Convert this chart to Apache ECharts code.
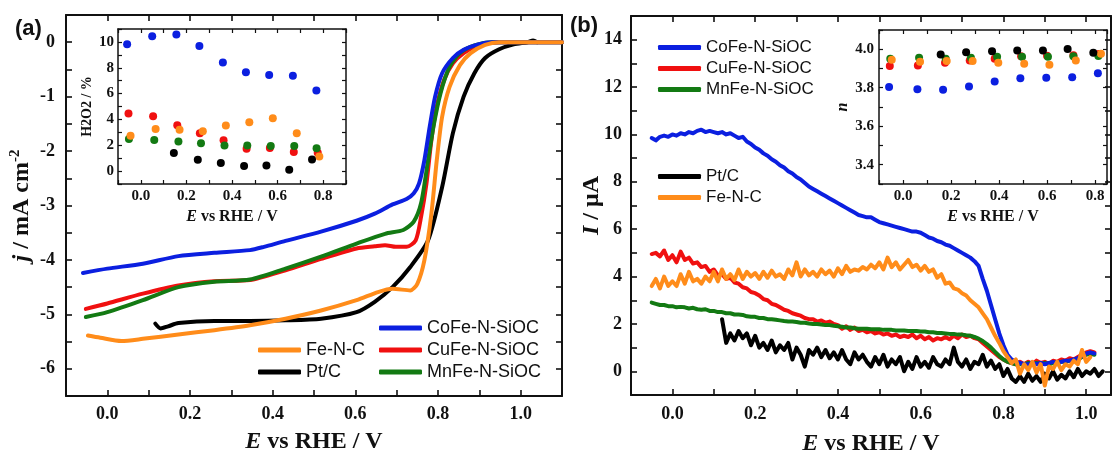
<!DOCTYPE html>
<html>
<head>
<meta charset="utf-8">
<script src="https://cdn.jsdelivr.net/npm/echarts@6/dist/echarts.min.js"></script>
<style>
  html, body { margin: 0; padding: 0; background: #fff; }
  #chart { width: 1116px; height: 455px; }
</style>
</head>
<body>
<div id="chart"></div>
<script>
  // ---- (a) LSV curves: E (V vs RHE) and j (mA cm-2) ----
  const lsvCoFeE = [-0.059, 0.0, 0.086, 0.172, 0.259, 0.345, 0.379, 0.431, 0.517, 0.603, 0.647, 0.690, 0.724, 0.741, 0.754, 0.767, 0.780, 0.793, 0.810, 0.836, 0.862, 0.897, 0.931, 1.1];
  const lsvCoFeJ = [-4.24, -4.16, -4.07, -3.93, -3.87, -3.82, -3.76, -3.65, -3.48, -3.28, -3.15, -2.98, -2.88, -2.78, -2.60, -2.17, -1.55, -1.00, -0.57, -0.29, -0.14, -0.04, 0, 0];
  const lsvCuFeE = [-0.052, 0.0, 0.086, 0.172, 0.259, 0.345, 0.431, 0.517, 0.603, 0.647, 0.672, 0.698, 0.724, 0.746, 0.759, 0.772, 0.784, 0.797, 0.815, 0.836, 0.862, 0.897, 0.948, 1.1];
  const lsvCuFeJ = [-4.90, -4.80, -4.62, -4.47, -4.39, -4.37, -4.19, -3.98, -3.79, -3.75, -3.73, -3.76, -3.76, -3.64, -3.21, -2.60, -1.80, -1.18, -0.69, -0.39, -0.20, -0.06, 0, 0];
  const lsvMnFeE = [-0.052, 0.0, 0.086, 0.172, 0.259, 0.345, 0.431, 0.517, 0.603, 0.672, 0.716, 0.741, 0.759, 0.776, 0.789, 0.806, 0.828, 0.853, 0.888, 0.931, 1.1];
  const lsvMnFeJ = [-5.05, -4.96, -4.74, -4.50, -4.40, -4.36, -4.16, -3.94, -3.70, -3.52, -3.45, -3.30, -2.96, -2.17, -1.55, -0.94, -0.45, -0.20, -0.06, 0, 0];
  const lsvFeNCE = [-0.047, -0.017, 0.034, 0.086, 0.172, 0.259, 0.345, 0.431, 0.517, 0.603, 0.655, 0.690, 0.733, 0.750, 0.767, 0.784, 0.797, 0.810, 0.828, 0.853, 0.879, 0.914, 0.948, 1.1];
  const lsvFeNCJ = [-5.39, -5.43, -5.49, -5.45, -5.37, -5.29, -5.20, -5.08, -4.93, -4.74, -4.59, -4.53, -4.56, -4.44, -4.01, -3.15, -2.17, -1.37, -0.82, -0.42, -0.20, -0.05, 0, 0];
  const lsvPtCE = [0.116, 0.129, 0.147, 0.172, 0.259, 0.345, 0.431, 0.517, 0.603, 0.647, 0.690, 0.733, 0.776, 0.810, 0.836, 0.862, 0.888, 0.914, 0.948, 0.983, 1.017, 1.03, 1.04];
  const lsvPtCJ = [-5.17, -5.26, -5.22, -5.16, -5.12, -5.12, -5.11, -5.08, -4.96, -4.77, -4.50, -4.13, -3.64, -2.66, -1.67, -1.00, -0.57, -0.29, -0.13, -0.04, 0, 0.03, 0];

  // ---- (a) inset: H2O2 yield (%) ----
  const h2o2CoFeE = [-0.06, 0.05, 0.156, 0.257, 0.36, 0.461, 0.563, 0.667, 0.77];
  const h2o2CoFe = [9.82, 10.44, 10.57, 9.69, 8.40, 7.65, 7.44, 7.39, 6.23];
  const h2o2CuFeE = [-0.054, 0.054, 0.16, 0.259, 0.363, 0.464, 0.566, 0.671, 0.776];
  const h2o2CuFe = [4.45, 4.24, 3.54, 2.92, 2.38, 1.73, 1.79, 1.47, 1.42];
  const h2o2MnFeE = [-0.052, 0.059, 0.165, 0.264, 0.367, 0.467, 0.57, 0.673, 0.771];
  const h2o2MnFe = [2.48, 2.40, 2.30, 2.15, 1.99, 1.99, 1.94, 1.94, 1.76];
  const h2o2FeNCE = [-0.045, 0.065, 0.17, 0.272, 0.373, 0.476, 0.579, 0.684, 0.783];
  const h2o2FeNC = [2.74, 3.26, 3.20, 3.08, 3.52, 3.78, 4.09, 2.92, 1.12];
  const h2o2PtCE = [0.145, 0.25, 0.351, 0.453, 0.551, 0.651, 0.751];
  const h2o2PtC = [1.40, 0.88, 0.62, 0.39, 0.44, 0.10, 0.90];

  // ---- (b) ring current I (uA), shared potential grid ----
  const ringE = [-0.05, -0.04, -0.03, -0.02, -0.01,
    0.00, 0.01, 0.02, 0.03, 0.04, 0.05, 0.06, 0.07, 0.08, 0.09,
    0.10, 0.11, 0.12, 0.13, 0.14, 0.15, 0.16, 0.17, 0.18, 0.19,
    0.20, 0.21, 0.22, 0.23, 0.24, 0.25, 0.26, 0.27, 0.28, 0.29,
    0.30, 0.31, 0.32, 0.33, 0.34, 0.35, 0.36, 0.37, 0.38, 0.39,
    0.40, 0.41, 0.42, 0.43, 0.44, 0.45, 0.46, 0.47, 0.48, 0.49,
    0.50, 0.51, 0.52, 0.53, 0.54, 0.55, 0.56, 0.57, 0.58, 0.59,
    0.60, 0.61, 0.62, 0.63, 0.64, 0.65, 0.66, 0.67, 0.68, 0.69,
    0.70, 0.71, 0.72, 0.73, 0.74, 0.75, 0.76, 0.77, 0.78, 0.79,
    0.80, 0.81, 0.82, 0.83, 0.84, 0.85, 0.86, 0.87, 0.88, 0.89,
    0.90, 0.91, 0.92, 0.93, 0.94, 0.95, 0.96, 0.97, 0.98, 0.99,
    1.00, 1.01, 1.02, 1.03, 1.04];
  const ringCoFe = [9.85, 9.75, 9.9, 9.95, 9.9,
    10.0, 9.95, 10.05, 10.0, 10.1, 10.05, 10.15, 10.2, 10.1, 10.15,
    10.1, 10.05, 10.1, 10.0, 10.05, 9.95, 9.85, 9.9, 9.7, 9.6,
    9.45, 9.35, 9.2, 9.1, 8.95, 8.85, 8.7, 8.6, 8.45, 8.35,
    8.2, 8.1, 7.95, 7.8, 7.7, 7.6, 7.5, 7.4, 7.3, 7.2,
    7.1, 7.0, 6.9, 6.8, 6.7, 6.6, 6.55, 6.5, 6.5, 6.4,
    6.3, 6.25, 6.2, 6.15, 6.1, 6.05, 6.0, 5.95, 5.9, 5.9,
    5.85, 5.75, 5.65, 5.6, 5.5, 5.45, 5.35, 5.3, 5.2, 5.1,
    5.0, 4.9, 4.8, 4.65, 4.45, 3.9, 3.4, 2.8, 2.2, 1.6,
    1.1, 0.7, 0.5, 0.4, 0.35, 0.3, 0.3, 0.35, 0.3, 0.35,
    0.3, 0.35, 0.4, 0.35, 0.4, 0.45, 0.45, 0.5, 0.55, 0.65,
    0.75, 0.8, 0.75, null, null];
  const ringCuFe = [4.95, 5.0, 4.85, 5.1, 4.7,
    4.9, 4.6, 5.05, 4.7, 4.8, 4.55, 4.6, 4.4, 4.45, 4.2,
    4.3, 4.05, 4.1, 3.9, 3.95, 3.75, 3.7, 3.55, 3.5, 3.35,
    3.3, 3.2, 3.05, 3.0, 2.85, 2.8, 2.7, 2.6, 2.55, 2.45,
    2.4, 2.35, 2.25, 2.2, 2.2, 2.1, 2.15, 2.05, 2.1, 2.0,
    1.95, 1.8, 1.9, 1.75, 1.85, 1.7, 1.75, 1.65, 1.7, 1.6,
    1.65, 1.55, 1.6, 1.5, 1.55, 1.45, 1.5, 1.45, 1.55, 1.4,
    1.5, 1.35, 1.45, 1.3, 1.4, 1.35, 1.45, 1.35, 1.5, 1.4,
    1.55, 1.45, 1.5, 1.4, 1.35, 1.2, 1.05, 0.9, 0.75, 0.6,
    0.5, 0.4, 0.35, 0.3, 0.4, 0.3, 0.4, 0.3, 0.45, 0.35,
    0.4, 0.3, 0.45, 0.4, 0.5, 0.45, 0.55, 0.5, 0.6, 0.7,
    0.8, 0.85, 0.8, null, null];
  const ringMnFe = [2.9, 2.85, 2.8, 2.8, 2.75,
    2.75, 2.7, 2.72, 2.7, 2.65, 2.68, 2.62, 2.6, 2.62, 2.55,
    2.55, 2.5, 2.5, 2.45, 2.45, 2.4, 2.4, 2.38, 2.32, 2.3,
    2.3, 2.25, 2.25, 2.2, 2.2, 2.18, 2.15, 2.12, 2.1, 2.1,
    2.08, 2.05, 2.05, 2.02, 2.0, 2.0, 1.98, 1.95, 1.95, 1.92,
    1.9, 1.88, 1.85, 1.85, 1.82, 1.8, 1.8, 1.8, 1.78, 1.78,
    1.78, 1.75, 1.75, 1.75, 1.72, 1.72, 1.72, 1.7, 1.7, 1.7,
    1.68, 1.68, 1.65, 1.65, 1.62, 1.62, 1.6, 1.58, 1.58, 1.55,
    1.55, 1.52, 1.5, 1.45, 1.38, 1.28, 1.15, 1.0, 0.82, 0.65,
    0.5, 0.4, 0.35, 0.3, 0.3, 0.3, 0.35, 0.3, 0.35, 0.3,
    0.35, 0.3, 0.35, 0.35, 0.4, 0.4, 0.45, 0.45, 0.5, 0.6,
    0.7, 0.75, 0.7, null, null];
  const ringFeNC = [3.6, 3.9, 3.5, 4.0, 3.6,
    3.8, 3.6, 4.1, 3.7, 4.2, 3.8, 3.9, 3.7, 4.0, 3.8,
    4.2, 3.8, 4.3, 3.9, 4.1, 3.85, 4.3, 3.9, 4.2, 4.0,
    4.15, 3.9, 4.2, 3.95, 4.25, 4.0, 4.1, 3.9, 4.3, 4.05,
    4.6, 4.0, 4.3, 4.05, 4.2, 4.0, 4.3, 4.1, 4.25, 4.0,
    4.35, 4.1, 4.45, 4.2, 4.3, 4.25, 4.4, 4.3, 4.5, 4.35,
    4.6, 4.3, 4.8, 4.4, 4.6, 4.3, 4.5, 4.7, 4.4, 4.5,
    4.25, 4.45, 4.2, 4.3, 3.95, 4.1, 3.7, 3.75, 3.5, 3.45,
    3.3, 3.2, 3.0, 2.85, 2.7, 2.45, 2.2, 1.85, 1.5, 1.2,
    0.85, 0.6, 0.35, 0.5, -0.1, 0.3, 0.05, 0.4, -0.05, 0.3,
    -0.6, 0.2, 0.1, 0.4, 0.05, 0.3, 0.2, 0.45, 0.3, 0.9,
    0.4, 0.6, null, null, null];
  const ringPtC = [null, null, null, null, null,
    null, null, null, null, null, null, null, null, null, null,
    null, null, 2.2, 1.2, 1.6, 1.3, 1.7, 1.4, 1.6, 1.1,
    1.5, 1.0, 1.2, 0.9, 1.3, 0.8, 1.1, 0.9, 1.2, 0.5,
    1.0, 0.7, 0.2, 0.9, 0.7, 1.0, 0.6, 0.9, 0.55, 0.8,
    0.5, 0.9, 0.5, 0.3, 0.8, 0.5, 0.7, 0.4, 0.2, 0.6,
    0.3, 0.7, 0.2, 0.5, 0.3, 0.6, 0.0, 0.4, 0.1, 0.6,
    0.2, 0.4, 0.15, 0.6, 0.3, 0.2, 0.5, 0.3, 1.0, 0.4,
    0.2, 0.5, 0.1, 0.4, 0.3, 0.7, 0.2, 0.45, 0.1, 0.3,
    -0.2, 0.1, -0.3, -0.45, -0.2, -0.45, -0.1, -0.4, -0.2, -0.45,
    -0.1, -0.3, 0.0, -0.35, -0.15, -0.3, 0.0, -0.25, 0.1, -0.2,
    0.0, -0.1, 0.1, -0.2, 0.0];

  // ---- (b) inset: electron transfer number n ----
  const nCoFeE = [-0.058, 0.06, 0.167, 0.275, 0.382, 0.489, 0.597, 0.705, 0.812];
  const nCoFe = [3.804, 3.792, 3.789, 3.806, 3.832, 3.849, 3.852, 3.854, 3.875];
  const nCuFeE = [-0.055, 0.062, 0.175, 0.278, 0.382, 0.492, 0.6, 0.71, 0.815];
  const nCuFe = [3.913, 3.915, 3.930, 3.941, 3.951, 3.963, 3.966, 3.969, 3.975];
  const nMnFeE = [-0.053, 0.067, 0.178, 0.283, 0.392, 0.496, 0.604, 0.71, 0.814];
  const nMnFe = [3.951, 3.956, 3.951, 3.956, 3.961, 3.961, 3.961, 3.963, 3.965];
  const nFeNCE = [-0.047, 0.071, 0.182, 0.29, 0.397, 0.505, 0.61, 0.72, 0.825];
  const nFeNC = [3.946, 3.935, 3.939, 3.939, 3.930, 3.925, 3.920, 3.941, 3.977];
  const nPtCE = [0.157, 0.263, 0.371, 0.476, 0.583, 0.686, 0.793];
  const nPtC = [3.973, 3.984, 3.989, 3.994, 3.994, 4.001, 3.982];

  const C = { CoFe: '#0b1fe0', CuFe: '#f01010', MnFe: '#137a13', FeNC: '#ff8c1a', PtC: '#000000' };
  const SERIF = "'Liberation Serif', 'Times New Roman', serif";
  const SANS = "'Liberation Sans', Arial, sans-serif";

  const zip = (xs, ys) => xs.map((x, i) => [x, ys[i]]);

  // label helpers: only show every other tick
  const tenthLabel = (lo, hi) => v => {
    const n = Math.round(v * 10);
    if (Math.abs(v * 10 - n) > 1e-6 || n % 2 !== 0 || n < lo || n > hi) return '';
    return (n / 10).toFixed(1);
  };
  const intLabel = (lo, hi, step) => v => {
    const n = Math.round(v);
    if (Math.abs(v - n) > 1e-6 || n % step !== 0 || n < lo || n > hi) return '';
    return String(n);
  };

  function axis(grid, position, min, max, interval, o) {
    const a = {
      type: 'value', gridIndex: grid, position, min, max, interval,
      axisLine: { show: true, onZero: false, lineStyle: { color: '#111', width: o.lw } },
      axisTick: { show: true, inside: true, length: o.tick, lineStyle: { color: '#111', width: o.lw * 0.8 } },
      splitLine: { show: false },
      axisLabel: o.fmt ? {
        show: true, formatter: o.fmt, fontFamily: SERIF, fontWeight: 'bold',
        fontSize: o.fs, color: '#111', margin: o.margin
      } : { show: false }
    };
    if (o.name) {
      a.name = o.name;
      a.nameLocation = 'middle';
      a.nameGap = o.gap;
      if (o.noPush) a.nameMoveOverlap = false;
      a.nameTextStyle = {
        fontFamily: SERIF, fontWeight: 'bold', fontSize: o.nfs, color: '#111',
        rich: {
          i: { fontFamily: SERIF, fontWeight: 'bold', fontStyle: 'italic', fontSize: o.nfs, color: '#111' },
          sup: { fontFamily: SERIF, fontWeight: 'bold', fontSize: Math.round(o.nfs * 0.62), color: '#111', verticalAlign: 'top', padding: [0, 0, 12, 0] }
        }
      };
    }
    return a;
  }

  const main = { lw: 2, tick: 6 };
  const ins = { lw: 1.5, tick: 4 };

  const xAxes = [
    axis(0, 'bottom', -0.1, 1.1, 0.1, { ...main, fmt: tenthLabel(0, 10), fs: 18, margin: 9, name: '{i|E} vs RHE / V', gap: 34, nfs: 24 }),
    axis(0, 'top', -0.1, 1.1, 0.1, main),
    axis(1, 'bottom', -0.1, 0.9, 0.1, { ...ins, fmt: tenthLabel(0, 8), fs: 15, margin: 5, name: '{i|E} vs RHE / V', gap: 25, nfs: 16 }),
    axis(1, 'top', -0.1, 0.9, 0.1, ins),
    axis(2, 'bottom', -0.1, 1.06, 0.1, { ...main, fmt: tenthLabel(0, 10), fs: 18, margin: 10, name: '{i|E} vs RHE / V', gap: 37, nfs: 24 }),
    axis(2, 'top', -0.1, 1.06, 0.1, main),
    axis(3, 'bottom', -0.1, 0.85, 0.1, { ...ins, fmt: tenthLabel(0, 8), fs: 15, margin: 5, name: '{i|E} vs RHE / V', gap: 25, nfs: 16 }),
    axis(3, 'top', -0.1, 0.85, 0.1, ins)
  ];
  const yAxes = [
    axis(0, 'left', -6.5, 0.5, 0.5, { ...main, fmt: intLabel(-6, 0, 1), fs: 18, margin: 11, name: '{i|j} / mA cm{sup|-2}', gap: 31, nfs: 24, noPush: true }),
    axis(0, 'right', -6.5, 0.5, 0.5, main),
    axis(1, 'left', -1, 11, 1, { ...ins, fmt: intLabel(0, 10, 2), fs: 15, margin: 4, name: 'H2O2 / %', gap: 24, nfs: 14 }),
    axis(1, 'right', -1, 11, 1, ins),
    axis(2, 'left', -1, 15, 1, { ...main, fmt: intLabel(0, 14, 2), fs: 18, margin: 9, name: '{i|I} / μA', gap: 27, nfs: 24, noPush: true }),
    axis(2, 'right', -1, 15, 1, main),
    axis(3, 'left', 3.3, 4.1, 0.1, { ...ins, fmt: tenthLabel(34, 40), fs: 15, margin: 5, name: '{i|n}', gap: 28, nfs: 16 }),
    axis(3, 'right', 3.3, 4.1, 0.1, ins)
  ];

  const line = (name, color, ai, data, smooth) => ({
    type: 'line', name, xAxisIndex: ai, yAxisIndex: ai, data,
    showSymbol: false, symbol: 'none', smooth,
    lineStyle: { color, width: 4, cap: 'round', join: 'round' }, itemStyle: { color }, z: 3
  });
  const dots = (name, color, ai, data) => ({
    type: 'scatter', name, xAxisIndex: ai, yAxisIndex: ai, data,
    symbol: 'circle', symbolSize: 8, itemStyle: { color, opacity: 1 }, z: 5
  });

  const legendBase = {
    orient: 'vertical', selectedMode: false, icon: 'roundRect',
    itemWidth: 43, itemHeight: 5, itemGap: 4, padding: 0,
    textStyle: { fontFamily: SANS, fontSize: 18, color: '#111' }
  };

  const option = {
    animation: false,
    backgroundColor: '#ffffff',
    title: [
      { text: '(a)', left: 15, top: 18, padding: 0, textStyle: { fontFamily: SANS, fontWeight: 'bold', fontSize: 22, color: '#111' } },
      { text: '(b)', left: 570, top: 15, padding: 0, textStyle: { fontFamily: SANS, fontWeight: 'bold', fontSize: 22, color: '#111' } }
    ],
    legend: [
      { ...legendBase, left: 379, top: 319, data: ['CoFe-N-SiOC', 'CuFe-N-SiOC', 'MnFe-N-SiOC'] },
      { ...legendBase, left: 258, top: 341, data: ['Fe-N-C', 'Pt/C'] },
      { ...legendBase, left: 658, top: 39, textStyle: { ...legendBase.textStyle, fontSize: 17 }, data: ['CoFe-N-SiOC', 'CuFe-N-SiOC', 'MnFe-N-SiOC'] },
      { ...legendBase, left: 658, top: 168, textStyle: { ...legendBase.textStyle, fontSize: 17 }, data: ['Pt/C', 'Fe-N-C'] }
    ],
    grid: [
      { left: 66, top: 15, width: 496, height: 381, outerBoundsMode: 'none' },
      { left: 118, top: 29, width: 228, height: 155, show: true, backgroundColor: '#fff', borderWidth: 0, outerBoundsMode: 'none' },
      { left: 631, top: 16, width: 480, height: 379, outerBoundsMode: 'none' },
      { left: 879, top: 30, width: 228, height: 154, show: true, backgroundColor: '#fff', borderWidth: 0, outerBoundsMode: 'none' }
    ],
    xAxis: xAxes,
    yAxis: yAxes,
    series: [
      line('Pt/C', C.PtC, 0, zip(lsvPtCE, lsvPtCJ), 0.25),
      line('CuFe-N-SiOC', C.CuFe, 0, zip(lsvCuFeE, lsvCuFeJ), 0.25),
      line('MnFe-N-SiOC', C.MnFe, 0, zip(lsvMnFeE, lsvMnFeJ), 0.25),
      line('CoFe-N-SiOC', C.CoFe, 0, zip(lsvCoFeE, lsvCoFeJ), 0.25),
      line('Fe-N-C', C.FeNC, 0, zip(lsvFeNCE, lsvFeNCJ), 0.25),

      dots('H2O2 CuFe', C.CuFe, 2, zip(h2o2CuFeE, h2o2CuFe)),
      dots('H2O2 MnFe', C.MnFe, 2, zip(h2o2MnFeE, h2o2MnFe)),
      dots('H2O2 FeNC', C.FeNC, 2, zip(h2o2FeNCE, h2o2FeNC)),
      dots('H2O2 PtC', C.PtC, 2, zip(h2o2PtCE, h2o2PtC)),
      dots('H2O2 CoFe', C.CoFe, 2, zip(h2o2CoFeE, h2o2CoFe)),

      line('Pt/C', C.PtC, 4, zip(ringE, ringPtC), false),
      line('CuFe-N-SiOC', C.CuFe, 4, zip(ringE, ringCuFe), false),
      line('MnFe-N-SiOC', C.MnFe, 4, zip(ringE, ringMnFe), false),
      line('CoFe-N-SiOC', C.CoFe, 4, zip(ringE, ringCoFe), false),
      line('Fe-N-C', C.FeNC, 4, zip(ringE, ringFeNC), false),

      dots('n CoFe', C.CoFe, 6, zip(nCoFeE, nCoFe)),
      dots('n CuFe', C.CuFe, 6, zip(nCuFeE, nCuFe)),
      dots('n MnFe', C.MnFe, 6, zip(nMnFeE, nMnFe)),
      dots('n FeNC', C.FeNC, 6, zip(nFeNCE, nFeNC)),
      dots('n PtC', C.PtC, 6, zip(nPtCE, nPtC))
    ]
  };

  const chart = echarts.init(document.getElementById('chart'), null, { renderer: 'canvas' });
  chart.setOption(option);
</script>
</body>
</html>
